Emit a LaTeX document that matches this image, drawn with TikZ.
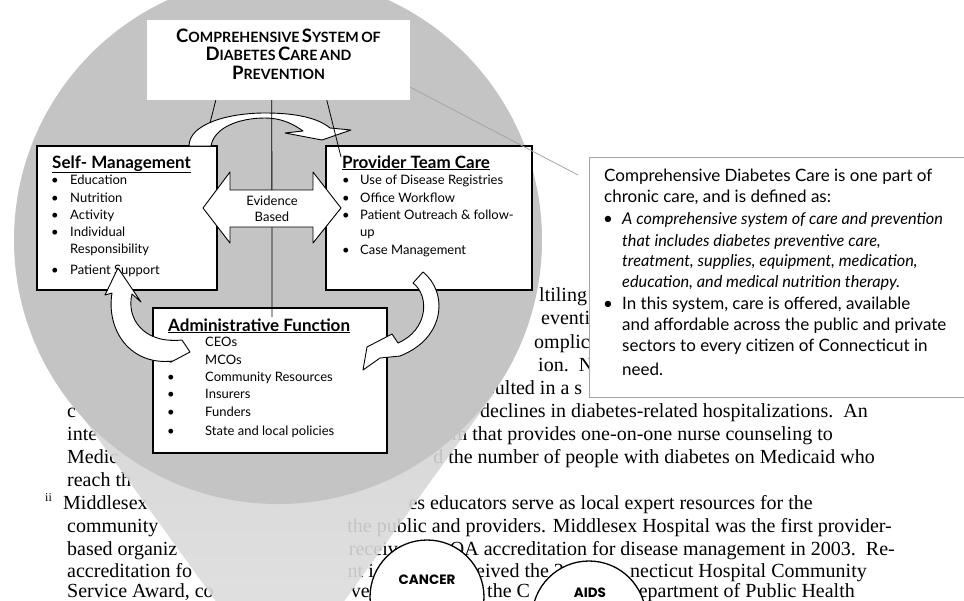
\documentclass[tikz,border=0pt]{standalone}
\usepackage{fontspec}
\setmainfont{Lato}
\newfontfamily\serifdoc{Liberation Serif}
\newfontfamily\geofont{Poppins}
\usetikzlibrary{calc}
\definecolor{lens}{RGB}{196,196,196}
\definecolor{conetop}{RGB}{212,212,212}
\definecolor{conebot}{RGB}{224,224,224}
\definecolor{calloutgray}{RGB}{165,165,165}
\newcommand\fsc[2]{{\fontsize{18.5}{22}\selectfont #1}{\fontsize{14.2}{22}\selectfont #2}}
\begin{document}
\begin{tikzpicture}[x=1pt,y=-1pt,
  doc/.style={font=\serifdoc\fontsize{20}{23}\selectfont, inner sep=0pt, text=black},
  box/.style={draw=black, line width=1.3pt, fill=white, inner sep=0pt},
  item/.style={anchor=base west, inner sep=0pt, font=\fontsize{13}{15}\selectfont},
  bul/.style={anchor=base, inner sep=0pt, font=\fontsize{13}{15}\selectfont},
  head/.style={anchor=base west, inner sep=0pt, font=\bfseries\fontsize{17}{19}\selectfont},
  ttl/.style={anchor=base, inner sep=0pt, font=\bfseries},
  blockarrow/.style={draw=black, line width=0.9pt, fill=white, line join=round},
  conn/.style={draw=black, line width=0.8pt},
  ctext/.style={anchor=base west, inner sep=0pt, font=\fontsize{17}{19}\selectfont},
  citext/.style={anchor=base west, inner sep=0pt, font=\itshape\fontsize{16.3}{19}\selectfont},
  cbul/.style={anchor=base, inner sep=0pt, font=\fontsize{17}{19}\selectfont},
  disease/.style={circle, draw=black, line width=1.3pt, fill=white, inner sep=0pt, minimum size=114pt},
  dlabel/.style={anchor=base, inner sep=0pt, font=\geofont\bfseries\fontsize{13.5}{15}\selectfont}
]
\useasboundingbox (0,0) rectangle (964,600);
\clip (0,0) rectangle (964,600);
\fill[white] (0,0) rectangle (964,600);

% ---------- background document text ----------
\node[doc, anchor=base west] (d1) at (539,301) {ltiling};
\node[doc, anchor=base west] (d2) at (541,324) {eventio};
\node[doc, anchor=base west] (d3) at (534,348) {omplicat};
\node[doc, anchor=base west] (d4) at (538,371) {ion.\ \ New};
\node[doc, anchor=base west] (d5) at (487,394) {sulted in a s};
\node[doc, anchor=base west] (d6l) at (67,417) {c};
\node[doc, anchor=base east] (d6) at (868,417) {declines in diabetes-related hospitalizations.\ \ An};
\node[doc, anchor=base west] (d7l) at (67,440) {inte};
\node[doc, anchor=base east] (d7) at (833,440) {m that provides one-on-one nurse counseling to};
\node[doc, anchor=base west] (d8l) at (67,463) {Medic};
\node[doc, anchor=base east] (d8) at (875,463) {d the number of people with diabetes on Medicaid who};
\node[doc, anchor=base west] (d9l) at (67,486) {reach th};
\node[font=\serifdoc\fontsize{12}{14}\selectfont, inner sep=0pt, anchor=base west] (fn) at (45,501) {ii};
\node[doc, anchor=base west] (d10l) at (63,509) {Middlesex};
\node[doc, anchor=base east] (d10) at (813,509) {es educators serve as local expert resources for the};
\node[doc, anchor=base west] (d11l) at (67,532) {community};
\node[doc, anchor=base east] (d11) at (892,532) {the public and providers. Middlesex Hospital was the first provider-};
\node[doc, anchor=base west] (d12l) at (67,555) {based organiz};
\node[doc, anchor=base east] (d12m) at (398,555) {receiv};
\node[doc, anchor=base east] (d12) at (895,555) {OA accreditation for disease management in 2003.\ \ Re-};
\node[doc, anchor=base west] (d13l) at (67,577) {accreditation fo};
\node[doc, anchor=base east] (d13m) at (374,577) {nt i};
\node[doc, anchor=base west] (d13a) at (476,577) {eived the 2};
\node[doc, anchor=base east] (d13) at (867,577) {necticut Hospital Community};
\node[doc, anchor=base west] (d14l) at (67,597) {Service Award, co};
\node[doc, anchor=base east] (d14m) at (370,597) {ve};
\node[doc, anchor=base west] (d14a) at (472,597) {d the C};
\node[doc, anchor=base east] (d14) at (855,597) {epartment of Public Health};

% ---------- magnifier ----------
\shade[top color=conetop, bottom color=conebot, opacity=0.9] (66.6,395) -- (280,690) -- (493,395) -- cycle;
\fill[lens] (278,240) circle (264pt);

\node[disease] (cancer) at (427,597) {};
\node[dlabel] (cancert) at (427,584) {CANCER};
\node[disease] (aids) at (589,618) {};
\node[dlabel] (aidst) at (590,597) {AIDS};

% ---------- diagram ----------
\node[fill=white, minimum width=263pt, minimum height=80pt, inner sep=0pt] (t) at (278.5,60) {};
\node[ttl] (t1) at (278.5,42) {\fsc{C}{OMPREHENSIVE} \fsc{S}{YSTEM} \fsc{}{OF}};
\node[ttl] (t2) at (278.5,60.5) {\fsc{D}{IABETES} \fsc{C}{ARE} \fsc{}{AND}};
\node[ttl] (t3) at (278.5,79) {\fsc{P}{REVENTION}};

\node[box, minimum width=180pt, minimum height=144pt] (sm) at (127,218) {};
\node[box, minimum width=206pt, minimum height=144pt] (pt) at (429,218) {};
\node[box, minimum width=234pt, minimum height=145pt] (af) at (270,380.5) {};

\node[head] (smh) at (52,168) {\underline{Self- Management}};
\foreach \txt/\yy [count=\i] in {Education/180, Nutrition/198, Activity/215, Individual/232, Patient Support/270} {
  \node[bul] (smb\i) at (55,\yy+4.5) {\textbullet};
  \node[item] (smi\i) at (70,\yy+4.5) {\txt};
}
\node[item] (smr) at (70,253.5) {Responsibility};

\node[head] (pth) at (342,168) {\underline{Provider Team Care}};
\foreach \txt/\yy [count=\i] in {Use of Disease Registries/180, Office Workflow/198, {Patient Outreach \& follow-}/215, Case Management/250} {
  \node[bul] (ptb\i) at (346,\yy+4.5) {\textbullet};
  \node[item] (pti\i) at (360,\yy+4.5) {\txt};
}
\node[item] (ptu) at (360,236.5) {up};

\node[head] (afh) at (168,331) {\underline{Administrative Function}};
\foreach \txt/\yy [count=\i] in {CEOs/342, MCOs/360, Community Resources/377, Insurers/394, Funders/412, State and local policies/431} {
  \node[bul] (afb\i) at (171,\yy+4.5) {\textbullet};
  \node[item] (afi\i) at (205,\yy+4.5) {\txt};
}

% top curved arrow
\draw[blockarrow] (189,146) .. controls (189,124) and (228,113) .. (265,113)
  .. controls (296,113) and (318,118) .. (330,128)
  -- (351,130) -- (322,140) -- (285,133) -- (303,131)
  .. controls (292,123) and (280,118) .. (265,118)
  .. controls (238,118) and (214,128) .. (211,146) -- cycle;

% connectors from the title
\coordinate (lend) at (210,123);
\coordinate (cend) at (272,317);
\coordinate (rend) at (341,157);
\draw[conn] ($(t.south west)+(69,0)$) -- (lend);
\draw[conn] ($(t.south west)+(125,0)$) -- (cend);
\draw[conn] ($(t.south west)+(180,0)$) -- (rend);

% left curved arrow
\draw[blockarrow] (190,352) -- (173,361) .. controls (130,366) and (106,330) .. (112,293)
  -- (105,295) -- (118,268) -- (141,302) -- (132,294)
  .. controls (126,318) and (143,344) .. (182,340) -- cycle;

% right curved arrow
\draw[blockarrow] (413,283) -- (423,272) .. controls (448,292) and (446,338) .. (400,356)
  -- (380,358) -- (363,370) -- (367,347) -- (392,334) -- (398,343)
  .. controls (428,330) and (430,296) .. (413,283) -- cycle;

% evidence based double arrow
\draw[blockarrow] (203,208) -- (230,172) -- (230,190) -- (313,190) -- (313,172) -- (341,208)
  -- (313,243) -- (313,227) -- (230,227) -- (230,243) -- cycle;
\node[bul] (ev1) at (272,205.5) {Evidence};
\node[bul] (ev2) at (272,221.5) {Based};

% ---------- callout ----------
\coordinate (cl) at (578,175);
\draw[calloutgray, line width=0.8pt] ($(t.south east)+(0,-13)$) -- (cl);
\node[draw=calloutgray, line width=0.8pt, fill=white, minimum width=390pt, minimum height=240pt, inner sep=0pt] (cb) at (784,277) {};
\node[ctext] (c1) at (604,181) {Comprehensive Diabetes Care is one part of};
\node[ctext] (c2) at (604,202) {chronic care, and is defined as:};
\node[cbul] (cb1) at (608,224) {\textbullet};
\node[citext] (c3) at (622,224) {A comprehensive system of care and prevention};
\node[citext] (c4) at (622,246) {that includes diabetes preventive care,};
\node[citext] (c5) at (622,266) {treatment, supplies, equipment, medication,};
\node[citext] (c6) at (622,287) {education, and medical nutrition therapy.};
\node[cbul] (cb2) at (608,309) {\textbullet};
\node[ctext] (c7) at (622,309) {In this system, care is offered, available};
\node[ctext] (c8) at (622,330) {and affordable across the public and private};
\node[ctext] (c9) at (622,351) {sectors to every citizen of Connecticut in};
\node[ctext] (c10) at (622,375) {need.};
\end{tikzpicture}
\end{document}
